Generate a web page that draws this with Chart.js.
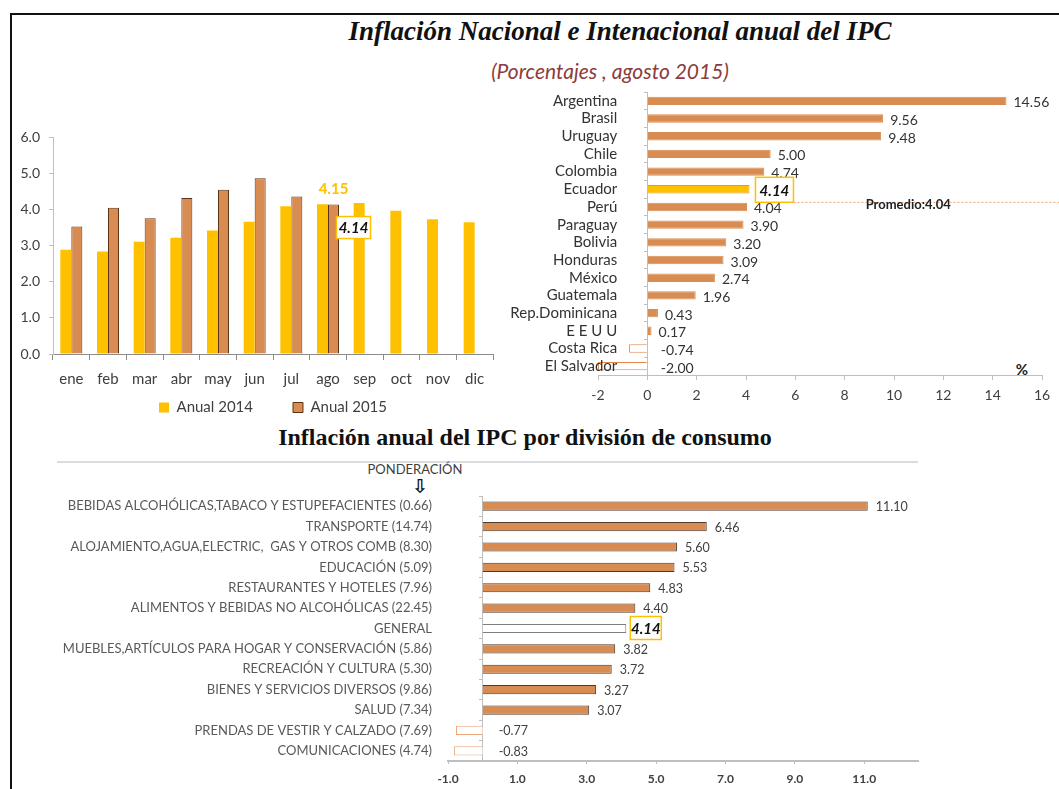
<!DOCTYPE html>
<html>
<head>
<meta charset="utf-8">
<script src="https://cdn.jsdelivr.net/npm/chart.js@4.4.1/dist/chart.umd.min.js"></script>
<style>
body { margin: 0; background: #fff; width: 1059px; height: 789px; overflow: hidden; position: relative; font-family: Lato, sans-serif; }
#marco { position: absolute; left: 10px; top: 13px; width: 1100px; height: 800px; border-left: 2px solid #111; border-top: 2px solid #111; }
canvas { position: absolute; }
.txt { position: absolute; white-space: nowrap; text-align: center; }
</style>
</head>
<body>
<div id="marco"></div>

<div class="txt" style="left:270px;top:16px;width:700px;font:italic bold 27px 'Liberation Serif';color:#111;">Inflación Nacional e Intenacional anual del IPC</div>
<div class="txt" style="left:410px;top:58px;width:400px;font:italic 21px Lato;color:#8E3B3B;">(Porcentajes , agosto 2015)</div>
<div class="txt" style="left:175px;top:424px;width:700px;font:bold 24px 'Liberation Serif';color:#111;">Inflación anual del IPC por división de consumo</div>
<div style="position:absolute;left:57px;top:461px;width:861px;height:2px;background:#DCDCDC;"></div>
<div class="txt" style="left:355px;top:461px;width:120px;font:13px Lato;color:#404040;">PONDERACIÓN</div>
<div class="txt" style="left:405px;top:475px;width:30px;font:bold 19px 'DejaVu Sans';color:#111;">⇩</div>
<div class="txt" style="left:1010px;top:360px;width:24px;font:bold 15px Lato;color:#222;">%</div>

<canvas id="mensual" width="490" height="305" style="left:11px;top:120px"></canvas>
<canvas id="paises" width="559" height="330" style="left:500px;top:80px"></canvas>
<canvas id="divisiones" width="1059" height="319" style="left:0px;top:470px"></canvas>

<script>
const meses = ["ene", "feb", "mar", "abr", "may", "jun", "jul", "ago", "sep", "oct", "nov", "dic"];
const anual2014 = [2.89, 2.84, 3.11, 3.22, 3.42, 3.66, 4.09, 4.15, 4.18, 3.97, 3.73, 3.65];
const anual2015 = [3.53, 4.05, 3.76, 4.32, 4.55, 4.87, 4.36, 4.14, null, null, null, null];

const paises = ["Argentina", "Brasil", "Uruguay", "Chile", "Colombia", "Ecuador", "Perú", "Paraguay",
    "Bolivia", "Honduras", "México", "Guatemala", "Rep.Dominicana", "E E U U", "Costa Rica", "El Salvador"];
const inflacionPaises = [14.56, 9.56, 9.48, 5.00, 4.74, 4.14, 4.04, 3.90, 3.20, 3.09, 2.74, 1.96, 0.43, 0.17, -0.74, -2.00];
const promedio = 4.04;

const divisiones = [
    "BEBIDAS ALCOHÓLICAS,TABACO Y ESTUPEFACIENTES (0.66)",
    "TRANSPORTE (14.74)",
    "ALOJAMIENTO,AGUA,ELECTRIC,  GAS Y OTROS COMB (8.30)",
    "EDUCACIÓN (5.09)",
    "RESTAURANTES Y HOTELES (7.96)",
    "ALIMENTOS Y BEBIDAS NO ALCOHÓLICAS (22.45)",
    "GENERAL",
    "MUEBLES,ARTÍCULOS PARA HOGAR Y CONSERVACIÓN (5.86)",
    "RECREACIÓN Y CULTURA (5.30)",
    "BIENES Y SERVICIOS DIVERSOS (9.86)",
    "SALUD (7.34)",
    "PRENDAS DE VESTIR Y CALZADO (7.69)",
    "COMUNICACIONES (4.74)"
];
const inflacionDivisiones = [11.10, 6.46, 5.60, 5.53, 4.83, 4.40, 4.14, 3.82, 3.72, 3.27, 3.07, -0.77, -0.83];
const ticksDivisiones = [-1, 1, 3, 5, 7, 9, 11];

const AMARILLO = "#FFC000";
const CAFE = "#D98C52";
const GRIS_EJE = "#BFBFBF";

Chart.defaults.font.family = "Lato";
Chart.defaults.color = "#404040";
Chart.defaults.animation = false;

function cajaValor(ctx, txt, x, y, w, h) {
    ctx.fillStyle = "#fff";
    ctx.fillRect(x, y, w, h);
    ctx.strokeStyle = AMARILLO;
    ctx.lineWidth = 1.5;
    ctx.strokeRect(x, y, w, h);
    ctx.fillStyle = "#111";
    ctx.font = "italic bold 15px Lato";
    ctx.textAlign = "center";
    ctx.textBaseline = "middle";
    ctx.fillText(txt, x + w / 2, y + h / 2 + 1);
}

// eje de categorias solo para los nombres, colocado a la izquierda del cero
function ejeNombres(labels, donde, tamano, color) {
    return {
        type: "category",
        axis: "y",
        labels: labels,
        offset: true,
        position: { x: donde },
        grid: { display: false },
        border: { display: false },
        ticks: { autoSkip: false, padding: 0, z: 1, font: { size: tamano }, color: color }
    };
}

// --- grafico mensual ---
const leyendaBase = Chart.defaults.plugins.legend.labels.generateLabels;
new Chart(document.getElementById("mensual"), {
    type: "bar",
    data: {
        labels: meses,
        datasets: [
            { label: "Anual 2014", data: anual2014, backgroundColor: AMARILLO, borderWidth: 0 },
            { label: "Anual 2015", data: anual2015, backgroundColor: CAFE, borderColor: "#5E3418", borderWidth: 1 }
        ]
    },
    options: {
        responsive: false,
        layout: { padding: { top: 17, right: 8 } },
        datasets: { bar: { categoryPercentage: 0.6, barPercentage: 1.0 } },
        scales: {
            x: {
                grid: { drawOnChartArea: false, offset: true, tickLength: 6, color: "#8C8C8C" },
                border: { color: "#8C8C8C" },
                ticks: { font: { size: 15 }, padding: 10 },
                afterFit: s => { s.height = 36; }
            },
            y: {
                min: 0, max: 6,
                grid: { drawOnChartArea: false, tickLength: 4, color: GRIS_EJE },
                border: { color: GRIS_EJE },
                ticks: { stepSize: 1, font: { size: 14 }, padding: 9, callback: v => v.toFixed(1) },
                afterFit: s => { s.width = 42; }
            }
        },
        plugins: {
            legend: {
                position: "bottom",
                fullSize: false,
                labels: {
                    boxWidth: 10, boxHeight: 10, font: { size: 15 }, padding: 10,
                    generateLabels: c => leyendaBase(c).map((l, i) => i === 0 ? { ...l, text: l.text + "\u2003\u2003\u2002" } : l)
                }
            },
            tooltip: { enabled: false }
        }
    },
    plugins: [{
        id: "etiquetasMes",
        afterDatasetsDraw(chart) {
            const ctx = chart.ctx;
            const i = meses.indexOf("ago");
            const b14 = chart.getDatasetMeta(0).data[i];
            const b15 = chart.getDatasetMeta(1).data[i];
            ctx.save();
            ctx.font = "bold 15px Lato";
            ctx.fillStyle = AMARILLO;
            ctx.textAlign = "center";
            ctx.textBaseline = "bottom";
            ctx.fillText(anual2014[i].toFixed(2), b14.x + 11, b14.y - 8);
            cajaValor(ctx, anual2015[i].toFixed(2), b15.x + 3, b15.y + 12, 34, 22);
            ctx.restore();
        }
    }]
});

// --- grafico paises ---
const iEcuador = paises.indexOf("Ecuador");
new Chart(document.getElementById("paises"), {
    type: "bar",
    data: {
        labels: paises,
        datasets: [{
            data: inflacionPaises,
            backgroundColor: inflacionPaises.map((v, i) => i === iEcuador ? AMARILLO : (v < 0 ? "#fff" : CAFE)),
            borderColor: inflacionPaises.map((v, i) => i === iEcuador ? "#E39A2A" : (v < 0 ? "#E2874A" : CAFE)),
            borderWidth: 1,
            categoryPercentage: 1.0,
            barPercentage: 0.47
        }]
    },
    options: {
        responsive: false,
        indexAxis: "y",
        layout: { padding: { left: 98, top: 12, right: 17 } },
        scales: {
            x: {
                min: -2, max: 16,
                grid: { drawOnChartArea: false, tickLength: 5, color: GRIS_EJE },
                border: { color: GRIS_EJE },
                ticks: { stepSize: 2, font: { size: 14 }, padding: 7 },
                afterFit: s => { s.height = 35; }
            },
            y: {
                position: { x: 0 },
                grid: { drawOnChartArea: false, offset: true, tickLength: 3, color: GRIS_EJE },
                border: { color: GRIS_EJE },
                ticks: { display: false }
            },
            nombres: ejeNombres(paises, -1.22, 15, "#333")
        },
        plugins: { legend: { display: false }, tooltip: { enabled: false } }
    },
    plugins: [{
        id: "etiquetasPaises",
        afterDatasetsDraw(chart) {
            const ctx = chart.ctx;
            const bars = chart.getDatasetMeta(0).data;
            const ys = chart.scales.y;
            const xs = chart.scales.x;
            ctx.save();
            // linea del promedio
            const yp = ys.getPixelForValue(iEcuador + 0.74);
            const xIni = bars[iEcuador].x + 44;
            ctx.strokeStyle = "#E8A070";
            ctx.lineWidth = 1;
            ctx.setLineDash([2, 2]);
            ctx.beginPath();
            ctx.moveTo(xIni, yp);
            ctx.lineTo(chart.width, yp);
            ctx.stroke();
            ctx.setLineDash([]);
            ctx.font = "bold 13px Lato";
            ctx.fillStyle = "#222";
            ctx.textAlign = "left";
            ctx.textBaseline = "middle";
            ctx.fillText("Promedio:" + promedio.toFixed(2), xs.getPixelForValue(8.85), yp + 2);

            bars.forEach((b, i) => {
                const v = inflacionPaises[i];
                if (i === iEcuador) {
                    cajaValor(ctx, v.toFixed(2), b.x + 6, b.y - 12, 38, 25);
                    return;
                }
                ctx.font = "14px Lato";
                ctx.fillStyle = "#333";
                ctx.textAlign = "left";
                ctx.textBaseline = "middle";
                const x = v < 0 ? b.base + 14 : b.x + 7;
                ctx.fillText(v.toFixed(2), x, b.y + 2);
            });
            ctx.restore();
        }
    }]
});

// --- grafico divisiones ---
const iGeneral = divisiones.indexOf("GENERAL");
new Chart(document.getElementById("divisiones"), {
    type: "bar",
    data: {
        labels: divisiones,
        datasets: [{
            data: inflacionDivisiones,
            backgroundColor: inflacionDivisiones.map((v, i) => (i === iGeneral || v < 0) ? "#fff" : CAFE),
            borderColor: inflacionDivisiones.map((v, i) => i === iGeneral ? "#7F7F7F" : (v < 0 ? "#EBA77A" : "#4A3A30")),
            borderWidth: 1,
            categoryPercentage: 1.0,
            barPercentage: 0.45
        }]
    },
    options: {
        responsive: false,
        indexAxis: "y",
        layout: { padding: { left: 448, top: 26, right: 141 } },
        scales: {
            x: {
                min: -1, max: 12.55,
                afterBuildTicks: s => { s.ticks = ticksDivisiones.map(v => ({ value: v })); },
                grid: { drawOnChartArea: false, tickLength: 3, color: GRIS_EJE },
                border: { color: GRIS_EJE, width: 2 },
                ticks: { font: { size: 12, weight: "bold" }, padding: 8, color: "#404040", callback: v => v.toFixed(1) },
                afterFit: s => { s.height = 28; }
            },
            y: {
                position: { x: 0 },
                grid: { drawOnChartArea: false, offset: true, tickLength: 3, color: GRIS_EJE },
                border: { color: GRIS_EJE },
                ticks: { display: false }
            },
            nombres: ejeNombres(divisiones, -1.46, 13, "#595959")
        },
        plugins: { legend: { display: false }, tooltip: { enabled: false } }
    },
    plugins: [{
        id: "etiquetasDivisiones",
        afterDatasetsDraw(chart) {
            const ctx = chart.ctx;
            const bars = chart.getDatasetMeta(0).data;
            ctx.save();
            bars.forEach((b, i) => {
                const v = inflacionDivisiones[i];
                if (i === iGeneral) {
                    cajaValor(ctx, v.toFixed(2), b.x + 4, b.y - 12, 31, 23);
                    return;
                }
                ctx.font = "12.5px Lato";
                ctx.fillStyle = "#404040";
                ctx.textAlign = "left";
                ctx.textBaseline = "middle";
                const x = v < 0 ? b.base + 16 : b.x + 8;
                ctx.fillText(v.toFixed(2), x, b.y + 1);
            });
            ctx.restore();
        }
    }]
});
</script>
</body>
</html>
